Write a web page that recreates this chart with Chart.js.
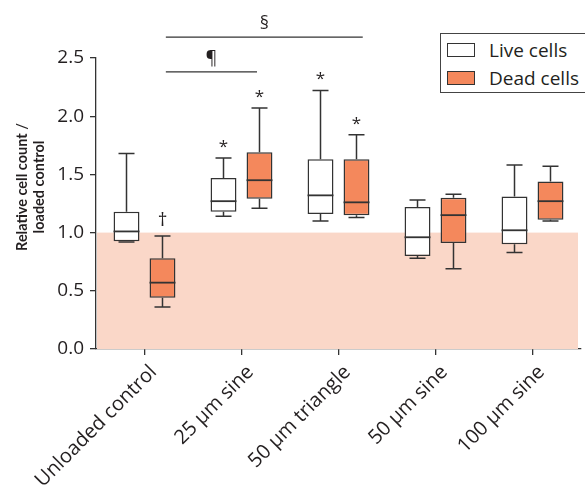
<!DOCTYPE html>
<html>
<head>
<meta charset="utf-8">
<script src="https://cdn.jsdelivr.net/npm/chart.js@4.4.1/dist/chart.umd.min.js"></script>
<style>
  html, body { margin: 0; padding: 0; background: #fff; overflow: hidden; }
  #wrap { position: relative; width: 585px; height: 487px; }
  #legend {
    position: absolute; left: 440px; top: 33px; width: 170px; height: 58px;
    border: 1px solid #444; background: #fff;
    font-family: "Open Sans", sans-serif; font-size: 19px; color: #231f20;
  }
  .row { position: absolute; left: 6px; height: 20px; line-height: 20px; display: flex; align-items: center; }
  .sw { width: 26px; height: 12px; border: 1.3px solid #333; margin-right: 14px; }
</style>
</head>
<body>
<div id="wrap">
  <canvas id="chart" width="585" height="487"></canvas>
  <div id="legend">
    <div class="row" style="top:6px"><span class="sw" style="background:#ffffff"></span>Live cells</div>
    <div class="row" style="top:34px"><span class="sw" style="background:#f4885c"></span>Dead cells</div>
  </div>
</div>
<script>
// Loading conditions
const categories = ['Unloaded control', '25 µm sine', '50 µm triangle', '50 µm sine', '100 µm sine'];

// Live cells: five-number summaries
const liveMin    = [0.92, 1.14, 1.10, 0.78, 0.83];
const liveQ1     = [0.925, 1.18, 1.16, 0.80, 0.90];
const liveMedian = [1.01, 1.27, 1.32, 0.96, 1.02];
const liveQ3     = [1.18, 1.47, 1.63, 1.22, 1.31];
const liveMax    = [1.68, 1.64, 2.22, 1.28, 1.58];

// Dead cells: five-number summaries
const deadMin    = [0.36, 1.21, 1.13, 0.69, 1.10];
const deadQ1     = [0.44, 1.29, 1.15, 0.91, 1.11];
const deadMedian = [0.57, 1.45, 1.26, 1.15, 1.27];
const deadQ3     = [0.78, 1.69, 1.63, 1.30, 1.44];
const deadMax    = [0.97, 2.07, 1.84, 1.33, 1.57];

// Significance symbols above each box
const liveMarks = ['', '*', '*', '', ''];
const deadMarks = ['†', '*', '*', '', ''];

// Comparison brackets: from / to category position, height, symbol
const bracketFrom   = [0.22, 0.22];
const bracketTo     = [1.16, 2.25];
const bracketHeight = [2.38, 2.68];
const bracketSymbol = ['¶', '§'];

// Loaded-control reference band
const bandLow = 0.0;
const bandHigh = 1.0;

// Y-axis ticks
const yTicks = [0.0, 0.5, 1.0, 1.5, 2.0, 2.5];

const INK = '#231f20';
const LINE = '#333333';
const FONT = '"Open Sans", sans-serif';

const summaries = [
  { min: liveMin, q1: liveQ1, med: liveMedian, q3: liveQ3, max: liveMax, marks: liveMarks },
  { min: deadMin, q1: deadQ1, med: deadMedian, q3: deadQ3, max: deadMax, marks: deadMarks }
];

const boxPlotParts = {
  id: 'boxPlotParts',
  beforeDatasetsDraw(chart) {
    const { ctx, chartArea, scales: { y } } = chart;
    ctx.save();
    // shaded band behind the boxes
    const yTop = y.getPixelForValue(bandHigh);
    const yBot = y.getPixelForValue(bandLow);
    ctx.fillStyle = '#fad7c8';
    ctx.fillRect(chartArea.left + 1, yTop, chartArea.right - chartArea.left - 4, yBot - yTop);
    // whiskers and caps
    ctx.strokeStyle = LINE;
    ctx.lineWidth = 1.5;
    summaries.forEach((s, di) => {
      chart.getDatasetMeta(di).data.forEach((bar, i) => {
        const x = bar.x;
        const pMin = y.getPixelForValue(s.min[i]);
        const pMax = y.getPixelForValue(s.max[i]);
        const pQ1 = y.getPixelForValue(s.q1[i]);
        const pQ3 = y.getPixelForValue(s.q3[i]);
        ctx.beginPath();
        ctx.moveTo(x, pQ3); ctx.lineTo(x, pMax);
        ctx.moveTo(x, pQ1); ctx.lineTo(x, pMin);
        ctx.moveTo(x - 8, pMax); ctx.lineTo(x + 8, pMax);
        ctx.moveTo(x - 8, pMin); ctx.lineTo(x + 8, pMin);
        ctx.stroke();
      });
    });
    ctx.restore();
  },
  afterDatasetsDraw(chart) {
    const { ctx, scales: { x: xs, y } } = chart;
    ctx.save();
    ctx.strokeStyle = LINE;
    ctx.lineWidth = 1.8;
    summaries.forEach((s, di) => {
      chart.getDatasetMeta(di).data.forEach((bar, i) => {
        const pMed = y.getPixelForValue(s.med[i]);
        ctx.beginPath();
        ctx.moveTo(bar.x - bar.width / 2, pMed);
        ctx.lineTo(bar.x + bar.width / 2, pMed);
        ctx.stroke();
        if (s.marks[i]) {
          ctx.fillStyle = INK;
          ctx.font = (s.marks[i] === '*' ? '17px ' : '19px ') + FONT;
          ctx.textAlign = 'center';
          ctx.textBaseline = 'middle';
          const off = s.marks[i] === '*' ? 11 : 15;
          ctx.fillText(s.marks[i], bar.x, y.getPixelForValue(s.max[i]) - off);
        }
      });
    });
    // comparison brackets
    ctx.lineWidth = 1.2;
    ctx.strokeStyle = LINE;
    bracketSymbol.forEach((sym, k) => {
      const x0 = xs.getPixelForValue(bracketFrom[k]);
      const x1 = xs.getPixelForValue(bracketTo[k]);
      const py = y.getPixelForValue(bracketHeight[k]);
      ctx.beginPath();
      ctx.moveTo(x0, py); ctx.lineTo(x1, py);
      ctx.stroke();
      ctx.fillStyle = INK;
      ctx.font = '18px ' + FONT;
      ctx.textAlign = 'center';
      ctx.textBaseline = 'middle';
      ctx.fillText(sym, (x0 + x1) / 2, py - 13);
    });
    ctx.restore();
  },
  afterDraw(chart) {
    const { ctx, scales: { x: xs } } = chart;
    ctx.save();
    ctx.fillStyle = INK;
    // rotated category labels
    ctx.font = '20px ' + FONT;
    ctx.textAlign = 'right';
    ctx.textBaseline = 'middle';
    categories.forEach((label, i) => {
      ctx.save();
      ctx.translate(xs.getPixelForValue(i) + 9, xs.top + 20);
      ctx.rotate(-Math.PI / 4);
      ctx.fillText(label, 0, 0);
      ctx.restore();
    });
    // two-line y-axis title
    ctx.font = 'bold 14.5px Lato, sans-serif';
    ctx.textAlign = 'center';
    ctx.translate(0, 187);
    ctx.rotate(-Math.PI / 2);
    ctx.fillText('Relative cell count /', 0, 22);
    ctx.fillText('loaded control', 0, 39);
    ctx.restore();
  }
};

new Chart(document.getElementById('chart'), {
  type: 'bar',
  data: {
    labels: categories,
    datasets: [
      {
        label: 'Live cells',
        data: categories.map((_, i) => [liveQ1[i], liveQ3[i]]),
        backgroundColor: '#ffffff',
        borderColor: LINE,
        borderWidth: 1.5,
        borderSkipped: false
      },
      {
        label: 'Dead cells',
        data: categories.map((_, i) => [deadQ1[i], deadQ3[i]]),
        backgroundColor: '#f4885c',
        borderColor: LINE,
        borderWidth: 1.5,
        borderSkipped: false
      }
    ]
  },
  options: {
    responsive: false,
    devicePixelRatio: 1,
    animation: false,
    categoryPercentage: 0.742,
    barPercentage: 0.72,
    layout: { padding: { top: 58, right: 4, left: 0, bottom: 0 } },
    plugins: { legend: { display: false }, tooltip: { enabled: false } },
    scales: {
      x: {
        afterFit(scale) { scale.height = 138; },
        grid: { display: true, offset: false, drawOnChartArea: false, color: LINE, tickLength: 6, lineWidth: 1.3 },
        border: { display: true, color: LINE, width: 1.3 },
        ticks: { display: true, color: 'rgba(0,0,0,0)', font: { family: FONT, size: 19 }, minRotation: 45, maxRotation: 45 }
      },
      y: {
        min: 0, max: 2.5,
        afterFit(scale) { scale.width = 96; },
        afterBuildTicks(scale) { scale.ticks = yTicks.map(v => ({ value: v })); },
        grid: { display: true, drawOnChartArea: false, color: LINE, tickLength: 6, lineWidth: 1.3 },
        border: { display: true, color: LINE, width: 1.3 },
        ticks: {
          color: INK, font: { family: FONT, size: 19 }, padding: 6,
          callback: v => v.toFixed(1)
        }
      }
    }
  },
  plugins: [boxPlotParts]
});
</script>
</body>
</html>
